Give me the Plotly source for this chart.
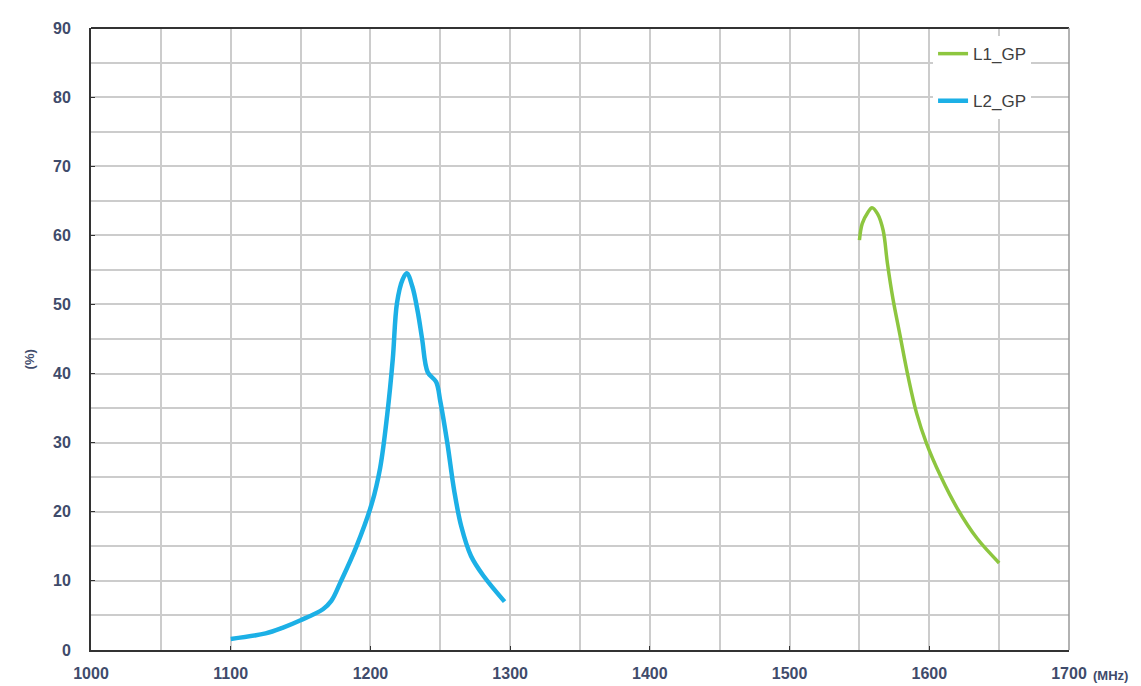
import plotly.graph_objects as go

# L2_GP curve (MHz, %)
l2_freq = [1100, 1125, 1137, 1150, 1166, 1172, 1179, 1190, 1201, 1207, 1212, 1216,
           1219, 1223, 1226, 1230, 1234, 1237, 1241, 1247, 1250, 1255, 1260, 1265,
           1272, 1281, 1296]
l2_eff = [1.6, 2.4, 3.2, 4.3, 5.9, 7.1, 10.0, 15.0, 21.2, 26.4, 34.0, 42.1,
          50.2, 53.6, 54.5, 52.6, 48.8, 45.0, 40.2, 38.8, 36.0, 30.0, 23.0, 17.9,
          13.6, 10.7, 7.0]

# L1_GP curve (MHz, %)
l1_freq = [1550, 1552, 1556, 1559, 1563, 1567, 1570, 1574, 1579, 1585, 1591, 1598,
           1608, 1620, 1634, 1650]
l1_eff = [59.3, 61.7, 63.3, 64.0, 63.1, 60.7, 56.0, 50.8, 45.6, 39.4, 34.2, 29.9,
          25.2, 20.5, 16.2, 12.6]

x_ticks = [1000, 1100, 1200, 1300, 1400, 1500, 1600, 1700]
y_ticks = [0, 10, 20, 30, 40, 50, 60, 70, 80, 90]

label_color = "#3f4b6b"
grid_color = "#cccccc"
tick_font = dict(family="Arial, Liberation Sans", size=16, color=label_color, weight="bold")

fig = go.Figure()

fig.add_trace(go.Scatter(x=l1_freq, y=l1_eff, mode="lines", name="L1_GP",
                         legendgroup="l1",
                         line=dict(color="#8dc63f", width=3.5, shape="spline")))
fig.add_trace(go.Scatter(x=l2_freq, y=l2_eff, mode="lines", name="L2_GP",
                         legendgroup="l2",
                         line=dict(color="#1cb0e6", width=4.5, shape="spline")))

fig.update_xaxes(range=[1000, 1700], tickvals=x_ticks,
                 showgrid=False,
                 minor=dict(dtick=50, tick0=1000, showgrid=True,
                            gridcolor=grid_color, gridwidth=1.5),
                 showline=True, linecolor="#333333", linewidth=2,
                 ticks="inside", ticklen=4, tickcolor="#333333",
                 ticklabelstandoff=8,
                 tickfont=tick_font, zeroline=False)
fig.update_yaxes(range=[0, 90], tickvals=y_ticks,
                 showgrid=False,
                 minor=dict(dtick=5, tick0=0, showgrid=True,
                            gridcolor=grid_color, gridwidth=1.5),
                 showline=True, linecolor="#333333", linewidth=2,
                 ticks="inside", ticklen=4, tickcolor="#333333",
                 ticklabelstandoff=15,
                 tickfont=tick_font, zeroline=False)

# top border dark, right border light like a gridline
fig.add_shape(type="line", xref="paper", yref="paper", x0=0, x1=1, y0=1, y1=1,
              line=dict(color="#333333", width=2))
fig.add_shape(type="line", xref="paper", yref="paper", x0=1, x1=1, y0=0, y1=1,
              line=dict(color="#999999", width=1.5))

fig.add_annotation(text="<b>(%)</b>", xref="paper", yref="paper", x=-0.0726, y=0.468,
                   showarrow=False, textangle=-90,
                   font=dict(family="Arial, Liberation Sans", size=13, color=label_color))
fig.add_annotation(text="<b>(MHz)</b>", xref="paper", yref="paper", x=1.0225, y=-0.041,
                   xanchor="left", yanchor="middle", showarrow=False,
                   font=dict(family="Arial, Liberation Sans", size=13, color=label_color))

# page body has an 8px margin, so margins are shifted to land the plot area in place
fig.update_layout(
    width=1141, height=686,
    margin=dict(l=83, r=80, t=12, b=44),
    plot_bgcolor="white", paper_bgcolor="white",
    font=dict(family="Arial, Liberation Sans", color=label_color),
    showlegend=True,
    legend=dict(x=0.861, y=0.987, xanchor="left", yanchor="top",
                bgcolor="white", borderwidth=0,
                tracegroupgap=22, itemwidth=30,
                font=dict(family="Arial, Liberation Sans", size=17, color="#404040")),
)

fig.write_html("out.html")
